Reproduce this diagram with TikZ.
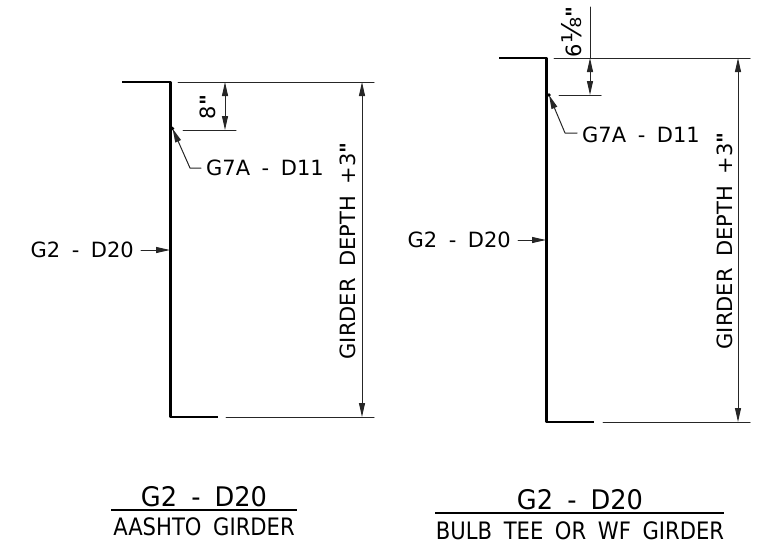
\documentclass[tikz,border=0pt]{standalone}
\usepackage{fontspec}
\setmainfont{DejaVu Sans}
\newfontfamily\inchfont{DejaVu Sans}
\usetikzlibrary{arrows.meta}
\newcommand{\gapp}{\hspace{0.55em}}
\newcommand{\inch}{{\inchfont\bfseries"}}
\tikzset{
  girder/.style={line width=2.3pt,line cap=butt},
  thinline/.style={line width=1pt,black!85},
  dimtip/.style={{Triangle[length=14pt,width=6pt]}-{Triangle[length=14pt,width=6pt]}},
  leadtip/.style={-{Triangle[length=14pt,width=6pt]}},
  callout/.style={font=\fontsize{21}{21}\selectfont,inner sep=0pt},
  dimtext/.style={font=\fontsize{21}{21}\selectfont,inner sep=0pt,rotate=90},
  titletext/.style={font=\fontsize{27}{27}\selectfont,inner sep=0pt,xscale=0.95},
  subtext/.style={font=\fontsize{24}{24}\selectfont,inner sep=0pt,xscale=0.88},
}
\begin{document}
\begin{tikzpicture}[line cap=round,line join=round,x=1pt,y=-1pt]
\clip(0,0) rectangle (765,544);
% aashto girder
\draw[girder] (122,82)--(170.5,82)--(170.5,417)--(218,417);
\draw[thinline] (178,82)--(374,82);
\draw[thinline] (183,130)--(236,130);
\draw[thinline] (226,417)--(374,417);
\coordinate (ltop) at (225,82);
\coordinate (lmid) at (225,130);
\coordinate (rtop) at (362,82);
\coordinate (rbot) at (362,417);
\draw[thinline,dimtip] (ltop)--(lmid);
\draw[thinline,dimtip] (rtop)--(rbot);
\node[dimtext] (eight) at (208,107) {8\inch};
\node[dimtext] (depthA) at (348,251) {GIRDER\gapp DEPTH\gapp +3\inch};
\node[callout,anchor=west] (leadA) at (206,168) {G7A\gapp -\gapp D11};
\coordinate (leadAbend) at (190,168);
\coordinate (leadAtip) at (172.5,128.5);
\draw[thinline,leadtip] ([xshift=-5pt]leadA.west)--(leadAbend)--(leadAtip);
\fill (leadAtip) circle (1.8pt);
\node[callout,anchor=east] (webA) at (134,250) {G2\gapp -\gapp D20};
\coordinate (webAtip) at (170,250);
\draw[thinline,leadtip] ([xshift=7pt]webA.east)--(webAtip);
\node[titletext] (titleA) at (204,497) {G2\gapp -\gapp D20};
\node[subtext] (subA) at (204,527) {AASHTO\gapp GIRDER};
\draw[line width=2pt,line cap=butt] (111,510)--(297,510);
% bulb tee or wf girder
\draw[girder] (499,58)--(546.5,58)--(546.5,422)--(594,422);
\draw[thinline] (554,58)--(750,58);
\draw[thinline] (559,95)--(601,95);
\draw[thinline] (603,422)--(750,422);
\draw[thinline] (590,7)--(590,58);
\coordinate (btop) at (590,58);
\coordinate (bmid) at (590,95);
\coordinate (dtop) at (738,58);
\coordinate (dbot) at (738,422);
\draw[thinline,dimtip] (btop)--(bmid);
\draw[thinline,dimtip] (dtop)--(dbot);
\node[dimtext] (sixth) at (572,32) {6{\fontsize{27}{27}\selectfont ⅛}\inch};
\node[dimtext] (depthB) at (725,241) {GIRDER\gapp DEPTH\gapp +3\inch};
\node[callout,anchor=west] (leadB) at (582,135) {G7A\gapp -\gapp D11};
\coordinate (leadBbend) at (565,133);
\coordinate (leadBtip) at (549,95);
\draw[thinline,leadtip] ([xshift=-5pt]leadB.west|-leadBbend)--(leadBbend)--(leadBtip);
\fill (leadBtip) circle (1.8pt);
\node[callout,anchor=east] (webB) at (511,240) {G2\gapp -\gapp D20};
\coordinate (webBtip) at (546,240);
\draw[thinline,leadtip] ([xshift=7pt]webB.east)--(webBtip);
\node[titletext] (titleB) at (580,500) {G2\gapp -\gapp D20};
\node[subtext] (subB) at (580,530.5) {BULB\gapp TEE\gapp OR\gapp WF\gapp GIRDER};
\draw[line width=2pt,line cap=butt] (435,512.5)--(724,512.5);
\end{tikzpicture}
\end{document}
